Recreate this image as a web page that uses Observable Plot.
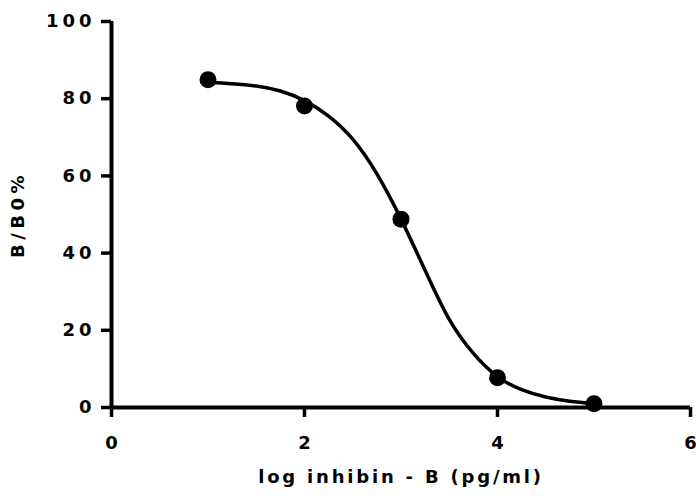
<!DOCTYPE html>
<html>
<head>
<meta charset="utf-8">
<script src="https://cdn.jsdelivr.net/npm/d3@7"></script>
<script src="https://cdn.jsdelivr.net/npm/@observablehq/plot@0.6"></script>
<style>
  html, body { margin: 0; padding: 0; background: #fff; }
  #chart { width: 696px; height: 496px; }
</style>
</head>
<body>
<div id="chart"></div>
<script>
// Measured points
const logConc = [1, 2, 3, 4, 5];
const bb0 = [84.9, 78.1, 48.8, 7.7, 1.0];

// Fitted curve
const curveX = [1, 1.25, 1.5, 1.75, 2, 2.25, 2.5, 2.75, 3, 3.25, 3.5, 3.75, 4, 4.25, 4.5, 4.75, 5];
const curveY = [84.2, 83.9, 83.3, 82.0, 79.5, 75.5, 69.5, 60.5, 48.8, 35.5, 22.8, 14.0, 8.0, 4.6, 2.7, 1.6, 1.0];

const xTicks = [0, 2, 4, 6];
const yTicks = [0, 20, 40, 60, 80, 100];
const xLabel = "log inhibin - B (pg/ml)";
const yLabel = "B/B0%";

const points = logConc.map((x, i) => ({x, y: bb0[i]}));
const curve = curveX.map((x, i) => ({x, y: curveY[i]}));

const chart = Plot.plot({
  width: 696,
  height: 496,
  marginLeft: 111,
  marginRight: 6,
  marginTop: 21,
  marginBottom: 89,
  style: {fontFamily: "'DejaVu Sans', 'Liberation Sans', sans-serif", fontWeight: "bold", fontSize: "18px", background: "#fff", color: "#000"},
  x: {domain: [0, 6]},
  y: {domain: [0, 100]},
  marks: [
    Plot.axisX(xTicks, {tickSize: 10, strokeWidth: 3.5, tickPadding: 19, label: null, fontSize: 18, fontWeight: "bold"}),
    Plot.axisY(yTicks, {tickSize: 10, strokeWidth: 3.5, tickPadding: 6, label: null, fontSize: 18, fontWeight: "bold"}),
    Plot.ruleY([0], {strokeWidth: 4}),
    Plot.ruleX([0], {strokeWidth: 4}),
    Plot.line(curve, {x: "x", y: "y", curve: "natural", strokeWidth: 3.5, stroke: "#000"}),
    Plot.dot(points, {x: "x", y: "y", r: 8.5, fill: "#000", stroke: "none"}),
    Plot.text([xLabel], {frameAnchor: "bottom", dy: 75, fontSize: 18, fontWeight: "bold"}),
    Plot.text([yLabel], {frameAnchor: "left", textAnchor: "middle", dx: -93, rotate: -90, fontSize: 18, fontWeight: "bold"})
  ]
});
const root = d3.select(chart);
root.selectAll('g[aria-label="y-axis tick label"] text').style("letter-spacing", "4px");
root.selectAll("text").each(function () {
  const t = this.textContent;
  if (t === xLabel) d3.select(this).style("letter-spacing", "2.8px");
  if (t === yLabel) d3.select(this).style("letter-spacing", "4.5px");
});
document.getElementById("chart").appendChild(chart);
</script>
</body>
</html>
